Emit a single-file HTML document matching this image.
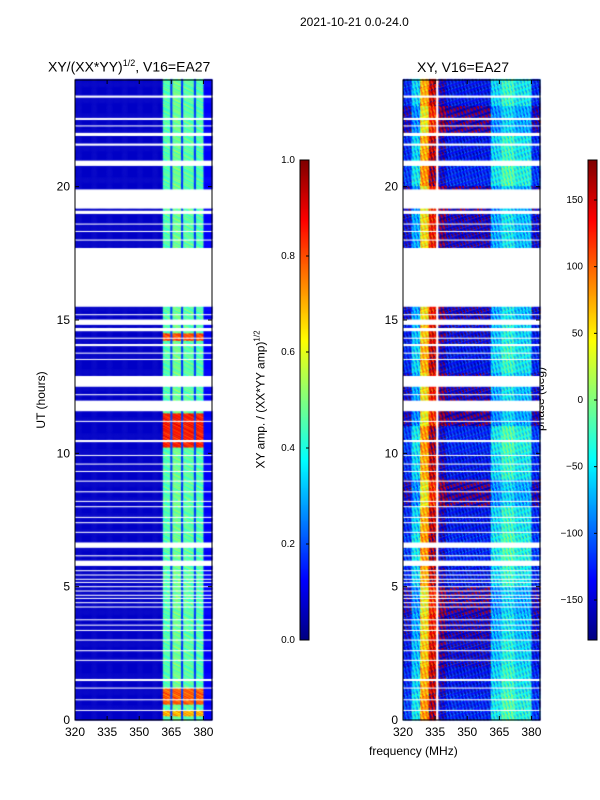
<!DOCTYPE html>
<html><head><meta charset="utf-8"><style>
body{margin:0;background:#fff;font-family:"Liberation Sans",sans-serif;}
#wrap{position:relative;width:600px;height:800px;overflow:hidden;}
canvas{position:absolute;}
.t{position:absolute;font-size:12px;color:#000;white-space:nowrap;}
</style></head><body>
<div id="wrap">
<div class="t" style="left:300px;top:15px;font-size:12px">2021-10-21 0.0-24.0</div>
<div class="t" style="left:48px;top:58px;font-size:14px">XY/(XX*YY)<sup style="font-size:9px">1/2</sup>, V16=EA27</div>
<div class="t" style="left:417px;top:59px;font-size:14px">XY, V16=EA27</div>
<div class="t" style="left:369px;top:744px;font-size:12px">frequency (MHz)</div>
<div class="t" style="left:6px;top:393px;transform:rotate(-90deg);transform-origin:center;width:70px;text-align:center">UT (hours)</div>
<div class="t" style="left:180px;top:392px;transform:rotate(-90deg);width:160px;text-align:center">XY amp. / (XX*YY amp)<sup style="font-size:8px">1/2</sup></div>
<div class="t" style="left:505px;top:392px;transform:rotate(-90deg);width:70px;text-align:center">phase (deg)</div>
<canvas id="c" width="600" height="800" style="left:0;top:0"></canvas>
<svg id="s" width="600" height="800" style="position:absolute;left:0;top:0"></svg>
</div>
<script>
// ---- data ----
const freqRange=[320,384];
const utRange=[0,24];
const xTicks=[320,335,350,365,380];
const yTicks=[0,5,10,15,20];
const ampTicks=[0.0,0.2,0.4,0.6,0.8,1.0];
const phaseTicks=[-150,-100,-50,0,50,100,150];
// frequency band edges (MHz) and mean amplitude per band
const ampBandEdges=[320,360.8,364.5,365.5,369.7,370.6,375.3,376.3,380,384];
const ampBandValues=[0.07,0.45,0.18,0.48,0.18,0.46,0.18,0.45,0.12];
// UT intervals with enhanced amplitude [start,end,value]
const ampHot=[[10.2,11.5,0.85],[0.6,1.2,0.78],[14.2,14.5,0.8],[0.15,0.35,0.7]];
// phase band edges and mean phase
const phaseBandEdges=[320,324,328,332,335.5,336.5,340,361,366,372,380,384];
const phaseValues=[-140,-70,60,140,999,-170,-150,-70,-40,-60,-140];
// per-hour phase offset (24 values)
const phaseRowOffsets=[20,10,0,-10,-20,10,20,10,-20,10,20,-20,-10,10,0,-10,-20,-10,-10,-20,20,10,-20,10];
// column jitter pattern
const phaseJitter=[25,-35,10,40,-15,5,-40,30,-10,35,-20,15,0,-30,30,-5];
// white (flagged) intervals in UT hours
const gaps=[[23.35,23.45],[22.5,22.58],[22.28,22.32],[21.9,22.05],[21.55,21.62],[20.8,21.0],[19.2,19.9],[19.0,19.1],[18.6,18.65],[18.3,18.35],[18.0,18.05],[15.5,17.7],[15.2,15.25],[14.85,15.05],[14.6,14.7],[14.3,14.35],[14.05,14.1],[13.75,13.8],[13.5,13.55],[12.5,12.9],[12.2,12.25],[11.6,12.0],[11.2,11.25],[10.45,10.5],[9.9,9.95],[9.6,9.65],[9.3,9.35],[8.95,9.0],[8.55,8.6],[8.2,8.25],[8.0,8.05],[7.6,7.65],[7.4,7.45],[7.05,7.1],[6.5,6.7],[6.15,6.2],[5.8,6.0],[5.6,5.64],[5.45,5.49],[5.3,5.34],[5.15,5.19],[5.0,5.04],[4.85,4.89],[4.7,4.74],[4.55,4.59],[4.4,4.44],[4.25,4.3],[3.75,3.8],[3.55,3.62],[3.35,3.4],[3.0,3.05],[2.6,2.65],[2.25,2.3],[1.5,1.55],[1.2,1.25],[0.75,0.8],[0.35,0.4]];
// ---- layout ----
const L={x0:75,x1:212,y0:80,y1:720};
const R={x0:403,x1:540,y0:80,y1:720};
const ctx=document.getElementById('c').getContext('2d');
function jet(v){v=Math.max(0,Math.min(1,v));
 const r=Math.min(4*v-1.5,-4*v+4.5),g=Math.min(4*v-0.5,-4*v+3.5),b=Math.min(4*v+0.5,-4*v+2.5);
 const c=x=>Math.round(255*Math.max(0,Math.min(1,x)));return `rgb(${c(r)},${c(g)},${c(b)})`;}
function xs(P,f){return P.x0+(f-freqRange[0])/(freqRange[1]-freqRange[0])*(P.x1-P.x0);}
function ys(P,u){return P.y1-(u-utRange[0])/(utRange[1]-utRange[0])*(P.y1-P.y0);}
function band(edges,f){for(let i=0;i<edges.length-1;i++)if(f<edges[i+1])return i;return edges.length-2;}
function isGap(u){return gaps.some(g=>u>=g[0]&&u<g[1]);}
const dU=0.04,dF=0.5;
for(let u=0;u<24;u+=dU){
 const gap=isGap(u+dU/2);
 const hot=ampHot.find(h=>u>=h[0]&&u<h[1]);
 const hr=Math.floor(u);
 for(let f=320;f<384;f+=dF){
  for(const P of [L,R]){
   const xa=xs(P,f),xb=xs(P,f+dF),ya=ys(P,u+dU),yb=ys(P,u);
   const bi=band(P===L?ampBandEdges:phaseBandEdges,f+dF/2);
   if(gap){ctx.fillStyle='#fff';}
   else if(P===L){let v=ampBandValues[bi];
     if(hot&&f>=360.8&&f<380&&v>0.3)v=hot[2];
     if(v>0.3)v+=phaseJitter[(Math.floor(f)+Math.floor(u*25))%16]/600;
     ctx.fillStyle=jet(v);}
   else{let p=phaseValues[bi];
     if(p===999){ctx.fillStyle='#fff';}
     else{p+=phaseRowOffsets[hr]+phaseJitter[(Math.floor(f*2)*3+Math.floor(u*25)*7)%16];
     while(p>180)p-=360;while(p<-180)p+=360;ctx.fillStyle=jet((p+180)/360);}}
   ctx.fillRect(xa,ya,xb-xa+0.5,yb-ya+0.5);
  }
 }
}
// colorbars
const CB1={x:300,w:9,y0:160,y1:640},CB2={x:588,w:9,y0:160,y1:640};
for(const cb of [CB1,CB2])for(let y=cb.y0;y<cb.y1;y++){ctx.fillStyle=jet(1-(y-cb.y0)/(cb.y1-cb.y0));ctx.fillRect(cb.x,y,cb.w,1);}
// axes
const S=document.getElementById('s');const NS='http://www.w3.org/2000/svg';
function mk(tag,a,txt){const e=document.createElementNS(NS,tag);for(const k in a)e.setAttribute(k,a[k]);if(txt!==undefined)e.textContent=txt;S.appendChild(e);return e;}
for(const [P,nm] of [[L,'left'],[R,'right']]){
 const fr=mk('rect',{x:P.x0,y:P.y0,width:P.x1-P.x0,height:P.y1-P.y0,fill:'none',stroke:'#000'});
 
 xTicks.forEach(t=>{const x=xs(P,t);mk('line',{x1:x,x2:x,y1:P.y1,y2:P.y1-4,stroke:'#000'});mk('line',{x1:x,x2:x,y1:P.y0,y2:P.y0+4,stroke:'#000'});
  const e=mk('text',{x:x,y:P.y1+16,'font-size':12,'text-anchor':'middle'},t);});
 yTicks.forEach(t=>{const y=ys(P,t);mk('line',{x1:P.x0,x2:P.x0+4,y1:y,y2:y,stroke:'#000'});mk('line',{x1:P.x1,x2:P.x1-4,y1:y,y2:y,stroke:'#000'});
  const e=mk('text',{x:P.x0-5,y:y+4,'font-size':12,'text-anchor':'end'},t);});
}
function cbAxis(cb,ticks,lo,hi,nm){
 const r=mk('rect',{x:cb.x,y:cb.y0,width:cb.w,height:cb.y1-cb.y0,fill:'none',stroke:'#000'});
 
 ticks.forEach(t=>{const y=cb.y1-(t-lo)/(hi-lo)*(cb.y1-cb.y0);
  mk('line',{x1:cb.x+cb.w,x2:cb.x+cb.w-3,y1:y,y2:y,stroke:'#000'});
  const e=mk('text',{x:cb.x-5,y:y+3,'font-size':10,'text-anchor':'end'},nm==='amp-colorbar'?t.toFixed(1):String(t).replace('-','\u2212'));
  });
}
cbAxis(CB1,ampTicks,0,1,'amp-colorbar');
cbAxis(CB2,phaseTicks,-180,180,'phase-colorbar');
</script>
</body></html>
